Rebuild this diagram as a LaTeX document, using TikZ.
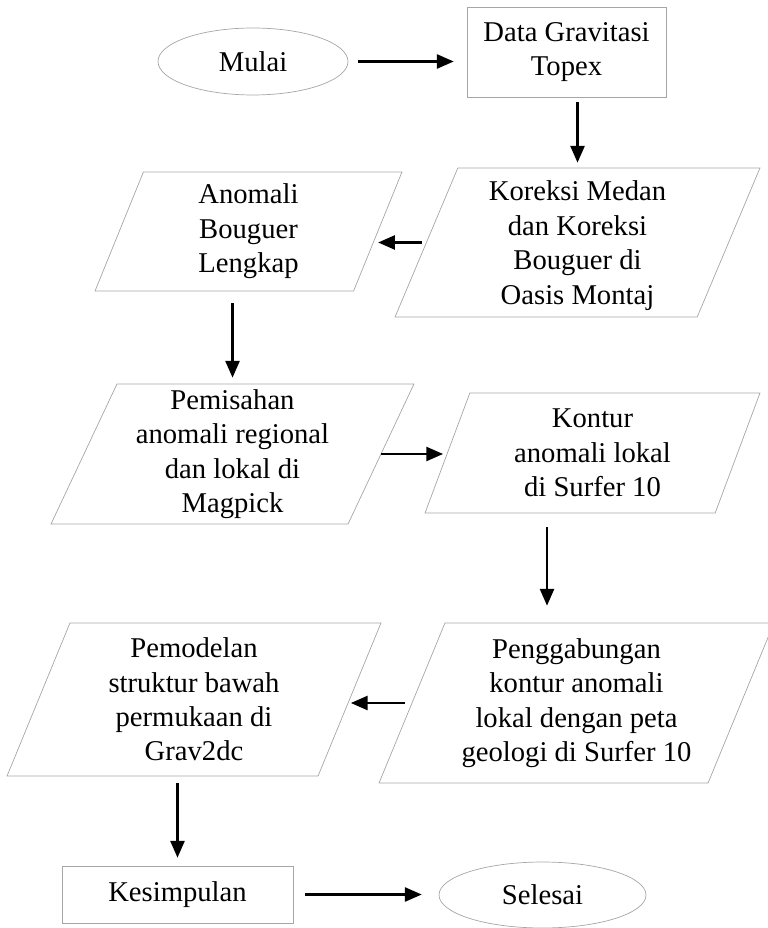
\documentclass[tikz,border=0pt]{standalone}
\usepackage{fontspec}
\setmainfont{Liberation Serif}
\usetikzlibrary{shapes.geometric, arrows.meta}
\newcommand{\alurfont}{\fontsize{16.3}{19.6}\selectfont}

\begin{document}
\begin{tikzpicture}[
			x=0.02cm, y=-0.02cm,
			every node/.style={draw=gray!70, line width=0.4pt, font=\alurfont, align=center, inner sep=0pt},
			terminal/.style={ellipse},
			proses/.style={rectangle},
			masukan/.style={trapezium, trapezium left angle=63, trapezium right angle=117, trapezium stretches body},
			panah/.style={draw, line width=1.2pt, -{Triangle[length=9.5pt, width=8pt]}}
			]
			\useasboundingbox (0,0) rectangle (767,928);
			% baris atas
			\node[terminal, minimum width=3.8cm, minimum height=1.34cm] (mulai) at (253,61.5) {Mulai};
			\node[proses, minimum width=3.98cm, minimum height=1.8cm] (dataTopex) at (566.5,52) {Data Gravitasi\\Topex};
			\node[masukan, minimum width=7.3cm, minimum height=2.98cm, text depth=-0.12cm] (koreksi) at (577.5,242.5) {Koreksi Medan\\dan Koreksi\\Bouguer di\\Oasis Montaj};
			\node[masukan, minimum width=6.14cm, minimum height=2.38cm] (anomali) at (248.5,231.5) {Anomali\\Bouguer\\Lengkap};
			% tengah
			\node[masukan, minimum width=7.26cm, minimum height=2.8cm] (pemisahan) at (232.5,454) {Pemisahan\\anomali regional\\dan lokal di\\Magpick};
			\node[masukan, minimum width=6.7cm, minimum height=2.4cm] (kontur) at (592.5,453) {Kontur\\anomali lokal\\di Surfer 10};
			\node[masukan, minimum width=7.9cm, minimum height=3.2cm] (gabung) at (576.5,703) {Penggabungan\\kontur anomali\\lokal dengan peta\\geologi di Surfer 10};
			\node[masukan, minimum width=7.48cm, minimum height=3.06cm] (pemodelan) at (194,699.5) {Pemodelan\\struktur bawah\\permukaan di\\Grav2dc};
			% bawah
			\node[proses, minimum width=4.62cm, minimum height=1.14cm] (kesimpulan) at (177.5,894.5) {Kesimpulan};
			\node[terminal, minimum width=4.14cm, minimum height=1.32cm] (selesai) at (542.5,895) {Selesai};

			\draw[panah, shorten <=0.2cm, shorten >=0.26cm] (mulai) -- (mulai -| dataTopex.west);
			\draw[panah, shorten <=0.1cm, shorten >=0.1cm] (dataTopex.south -| koreksi.north) -- (koreksi.north);
			\draw[panah, shorten <=0.09cm] (koreksi.west) -- (koreksi.west -| anomali.east);
			\draw[panah, shorten <=0.24cm, shorten >=0.12cm] (anomali.south -| pemisahan.north) -- (pemisahan.north);
			\draw[panah, shorten >=0.08cm] (pemisahan.east) -- (pemisahan.east -| kontur.west);
			\draw[panah, shorten <=0.28cm, shorten >=0.34cm] ([xshift=-0.91cm]kontur.south) -- ([xshift=-0.91cm]kontur.south |- gabung.north);
			\draw[panah, shorten <=0.14cm, shorten >=0.02cm] (gabung.west) -- (gabung.west -| pemodelan.east);
			\draw[panah, shorten <=0.14cm, shorten >=0.16cm] (pemodelan.south -| kesimpulan.north) -- (kesimpulan.north);
			\draw[panah, shorten <=0.24cm, shorten >=0.34cm] (kesimpulan) -- (kesimpulan -| selesai.west);
		\end{tikzpicture}
\end{document}
